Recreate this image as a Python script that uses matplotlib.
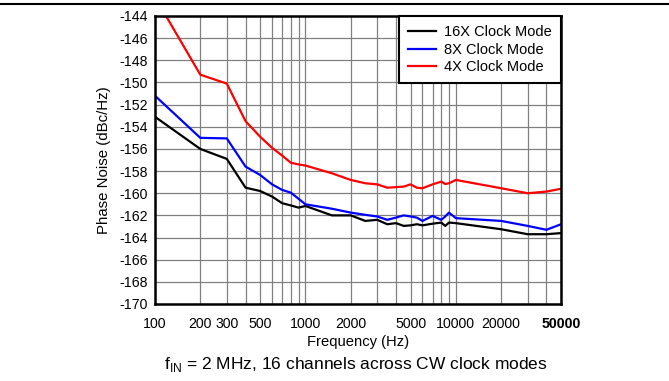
import matplotlib
matplotlib.use("Agg")
import matplotlib.pyplot as plt
from matplotlib.lines import Line2D
from matplotlib.ticker import FixedLocator, NullFormatter, LogLocator

plt.rcParams["font.family"] = ["Liberation Sans", "DejaVu Sans"]
plt.rcParams["axes.unicode_minus"] = False

# Frequency points (Hz)
freq = [100, 200, 300, 400, 500, 600, 700, 800, 900, 1000, 1500, 2000, 2500,
        3000, 3500, 4000, 4500, 5000, 5500, 6000, 7000, 8000, 8500, 9000,
        10000, 20000, 30000, 40000, 50000]

# Phase noise (dBc/Hz) per clock mode
noise_16x = [-153.1, -156.0, -156.9, -159.5, -159.8, -160.3, -160.9, -161.1,
             -161.3, -161.15, -162.0, -162.0, -162.5, -162.4, -162.8, -162.7,
             -162.95, -162.9, -162.8, -162.9, -162.75, -162.65, -162.95,
             -162.65, -162.7, -163.25, -163.7, -163.7, -163.6]
noise_8x = [-151.2, -155.0, -155.05, -157.6, -158.35, -159.2, -159.7, -159.95,
            -160.5, -161.0, -161.4, -161.75, -161.95, -162.1, -162.4, -162.2,
            -162.0, -162.1, -162.2, -162.5, -162.05, -162.4, -162.1, -161.75,
            -162.25, -162.5, -162.95, -163.3, -162.8]
noise_4x = [-142.3, -149.3, -150.1, -153.5, -154.9, -155.9, -156.6, -157.25,
            -157.4, -157.5, -158.2, -158.8, -159.1, -159.2, -159.5, -159.45,
            -159.4, -159.2, -159.5, -159.55, -159.2, -158.95, -159.17, -159.1,
            -158.8, -159.55, -160.0, -159.85, -159.6]

series = [("16X Clock Mode", noise_16x, "black"),
          ("8X Clock Mode", noise_8x, "blue"),
          ("4X Clock Mode", noise_4x, "red")]

xtick_vals = [100, 200, 300, 500, 1000, 2000, 5000, 10000, 20000, 50000]
ytick_vals = list(range(-170, -143, 2))

fig = plt.figure(figsize=(6.69, 3.81), dpi=100)
ax = fig.add_axes([155 / 669, 1 - 304 / 381, 406 / 669, 288 / 381])

for label, vals, color in series:
    ax.plot(freq, vals, color=color, lw=1.6, label=label)

ax.set_xscale("log")
ax.set_xlim(100, 50000)
ax.set_ylim(-170, -144)

ax.xaxis.set_major_locator(FixedLocator(xtick_vals))
ax.set_xticklabels([str(v) for v in xtick_vals])
ax.get_xticklabels()[-1].set_fontweight("bold")
ax.xaxis.set_minor_locator(LogLocator(base=10, subs=range(1, 10), numticks=20))
ax.xaxis.set_minor_formatter(NullFormatter())
ax.set_yticks(ytick_vals)

ax.tick_params(axis="both", which="both", length=0, labelsize=10.2)
ax.tick_params(axis="x", pad=9)
ax.tick_params(axis="y", pad=5)

ax.grid(True, which="both", color="#808080", lw=0.9)
ax.set_axisbelow(True)
for sp in ax.spines.values():
    sp.set_linewidth(1.8)

ax.set_xlabel("Frequency (Hz)", fontsize=10.6, labelpad=3)
ax.set_ylabel("Phase Noise (dBc/Hz)", fontsize=10.8, labelpad=6)

# legend box sits flush in the top-right corner
leg = ax.legend(loc="upper right", bbox_to_anchor=(1, 1), borderaxespad=0,
                fontsize=10.5, fancybox=False, framealpha=1, edgecolor="black",
                handlelength=1.9, handletextpad=0.55, labelspacing=0.22,
                borderpad=0.65)
leg.get_frame().set_linewidth(1.5)

fig.add_artist(Line2D([0, 1], [1 - 4 / 381] * 2, transform=fig.transFigure,
                      color="black", lw=1.5))
fig.text(356 / 669, 1 - 364 / 381,
         "f$_{\\mathregular{IN}}$ = 2 MHz, 16 channels across CW clock modes",
         ha="center", va="center", fontsize=12.5)

fig.savefig("out.png", dpi=100)
